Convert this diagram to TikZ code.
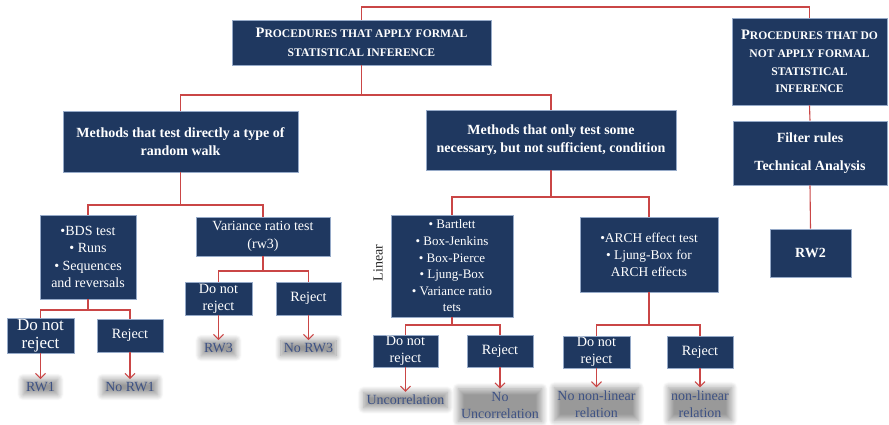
\documentclass[tikz,border=0pt]{standalone}
\usepackage{fontspec}
\setmainfont{Liberation Serif}
\usetikzlibrary{arrows.meta,shadows.blur}
\definecolor{navy}{RGB}{31,56,96}
\definecolor{edgec}{RGB}{150,170,200}
\definecolor{wirec}{RGB}{202,70,70}
\definecolor{lblc}{RGB}{62,82,132}
\newcommand\capA[1]{{\fontsize{14.5}{18}\selectfont #1}}
\begin{document}
\begin{tikzpicture}[x=1pt,y=-1pt,
  box/.style={fill=navy,draw=edgec,line width=0.6pt,text=white,align=center,inner sep=1pt},
  hdr/.style={box,font=\bfseries\fontsize{11.6}{19}\selectfont},
  hdrb/.style={box,font=\bfseries\fontsize{11.6}{17.7}\selectfont},
  meth/.style={box,font=\bfseries\fontsize{14}{18}\selectfont},
  tst/.style={box,font=\fontsize{14}{17.5}\selectfont},
  dec/.style={box,font=\fontsize{14.2}{17}\selectfont},
  wire/.style={draw=wirec,line width=1.1pt},
  arr/.style={wire,-{Straight Barb[length=5pt,width=10pt]}},
  res/.style={text=lblc,align=center,inner sep=3pt,font=\fontsize{14}{17}\selectfont,
    blur shadow={shadow xshift=0pt,shadow yshift=0pt,shadow blur radius=6pt,shadow opacity=40,shadow blur steps=12}}]
\useasboundingbox (0,0) rectangle (889,424);
% bus coordinates
\coordinate (b0) at (0,7);
\coordinate (b1) at (0,95);
\coordinate (b2) at (0,205);
\coordinate (b3) at (0,197);
\coordinate (b4) at (0,310);
\coordinate (b5) at (0,271);
\coordinate (b6) at (0,325);
% boxes
\node[hdr,minimum width=259pt,minimum height=45pt] (top) at (361.5,42.5)
  {\capA{P}ROCEDURES THAT APPLY FORMAL\\STATISTICAL INFERENCE};
\node[hdrb,minimum width=155pt,minimum height=87pt] (right) at (809.5,61.5)
  {\capA{P}ROCEDURES THAT DO\\NOT APPLY FORMAL\\STATISTICAL\\INFERENCE};
\node[meth,minimum width=235pt,minimum height=61pt] (mL) at (180.5,141.5)
  {Methods that test directly a type of\\random walk};
\node[meth,minimum width=250pt,minimum height=60pt] (mM) at (551,140)
  {Methods that only test some\\necessary, but not sufficient, condition};
\node[meth,minimum width=154pt,minimum height=64pt] (filt) at (810,153)
  {Filter rules\\[10pt]Technical Analysis};
\node[meth,minimum width=81pt,minimum height=48pt] (rw2) at (810.5,253) {RW2};
\node[tst,minimum width=96pt,minimum height=84pt] (bds) at (88,257)
  {•BDS test\\• Runs\\• Sequences\\and reversals};
\node[tst,minimum width=134pt,minimum height=39pt] (vr) at (263,236.5)
  {Variance ratio test\\(rw3)};
\node[box,font=\fontsize{13}{16.6}\selectfont,minimum width=122pt,minimum height=102pt] (lin) at (452,266)
  {• Bartlett\\• Box-Jenkins\\• Box-Pierce\\• Ljung-Box\\• Variance ratio\\tets};
\node[tst,font=\fontsize{13.4}{17}\selectfont,minimum width=138pt,minimum height=75pt] (arch) at (649,254.5)
  {•ARCH effect test\\• Ljung-Box for\\ARCH effects};
\node[rotate=90,font=\fontsize{14}{15}\selectfont,text=black!85] (linlbl) at (378,263) {Linear};
% decisions
\node[dec,font=\fontsize{17}{18}\selectfont,minimum width=67pt,minimum height=33pt] (dnr1) at (40.5,335.5) {Do not\\reject};
\node[dec,minimum width=66pt,minimum height=33pt] (rej1) at (130,335.5) {Reject};
\node[dec,minimum width=67pt,minimum height=33pt] (dnr3) at (218.5,298.5) {Do not\\reject};
\node[dec,minimum width=65pt,minimum height=33pt] (rej3) at (308.5,298.5) {Reject};
\node[dec,minimum width=65pt,minimum height=32pt] (dnrL) at (405.5,351) {Do not\\reject};
\node[dec,minimum width=66pt,minimum height=32pt] (rejL) at (500,351) {Reject};
\node[dec,minimum width=67pt,minimum height=32pt] (dnrA) at (596.5,352) {Do not\\reject};
\node[dec,minimum width=66pt,minimum height=32pt] (rejA) at (700,352) {Reject};
% results
\node[res] (rw1) at (40.5,387) {RW1};
\node[res] (norw1) at (130,387) {No RW1};
\node[res] (rw3) at (218.5,348) {RW3};
\node[res] (norw3) at (308.5,348) {No RW3};
\node[res] (unc) at (405.5,400) {Uncorrelation};
\node[res] (nounc) at (500,405) {No\\Uncorrelation};
\node[res] (nonl) at (596.5,404) {No non-linear\\relation};
\node[res] (nl) at (700,404) {non-linear\\relation};
% connectors
\draw[wire] (top.north) -- (top.north|-b0) -| (right.north);
\draw[wire] (top.south) -- (top.south|-b1);
\draw[wire] (mL.north) -- (mL.north|-b1) -| (mM.north);
\draw[wire] (right.south) -- (filt.north);
\draw[wire] (filt.south) -- (rw2.north);
\draw[wire] (mL.south) -- (mL.south|-b2);
\draw[wire] (bds.north) -- (bds.north|-b2) -| (vr.north);
\draw[wire] (bds.south) -- (bds.south|-b4);
\draw[wire] (dnr1.north) -- (dnr1.north|-b4) -| (rej1.north);
\draw[wire] (vr.south) -- (vr.south|-b5);
\draw[wire] (dnr3.north) -- (dnr3.north|-b5) -| (rej3.north);
\draw[wire] (mM.south) -- (mM.south|-b3);
\draw[wire] (lin.north) -- (lin.north|-b3) -| (arch.north);
\draw[wire] (lin.south) -- (lin.south|-b6);
\draw[wire] (dnrL.north) -- (dnrL.north|-b6) -| (rejL.north);
\draw[wire] (arch.south) -- (arch.south|-b6);
\draw[wire] (dnrA.north) -- (dnrA.north|-b6) -| (rejA.north);
\draw[arr] (dnr1.south) -- (rw1.north);
\draw[arr] (rej1.south) -- (norw1.north);
\draw[arr] (dnr3.south) -- (rw3.north);
\draw[arr] (rej3.south) -- (norw3.north);
\draw[arr] (dnrL.south) -- (unc.north);
\draw[arr] (rejL.south) -- (nounc.north);
\draw[arr] (dnrA.south) -- (nonl.north);
\draw[arr] (rejA.south) -- (nl.north);
\end{tikzpicture}
\end{document}
